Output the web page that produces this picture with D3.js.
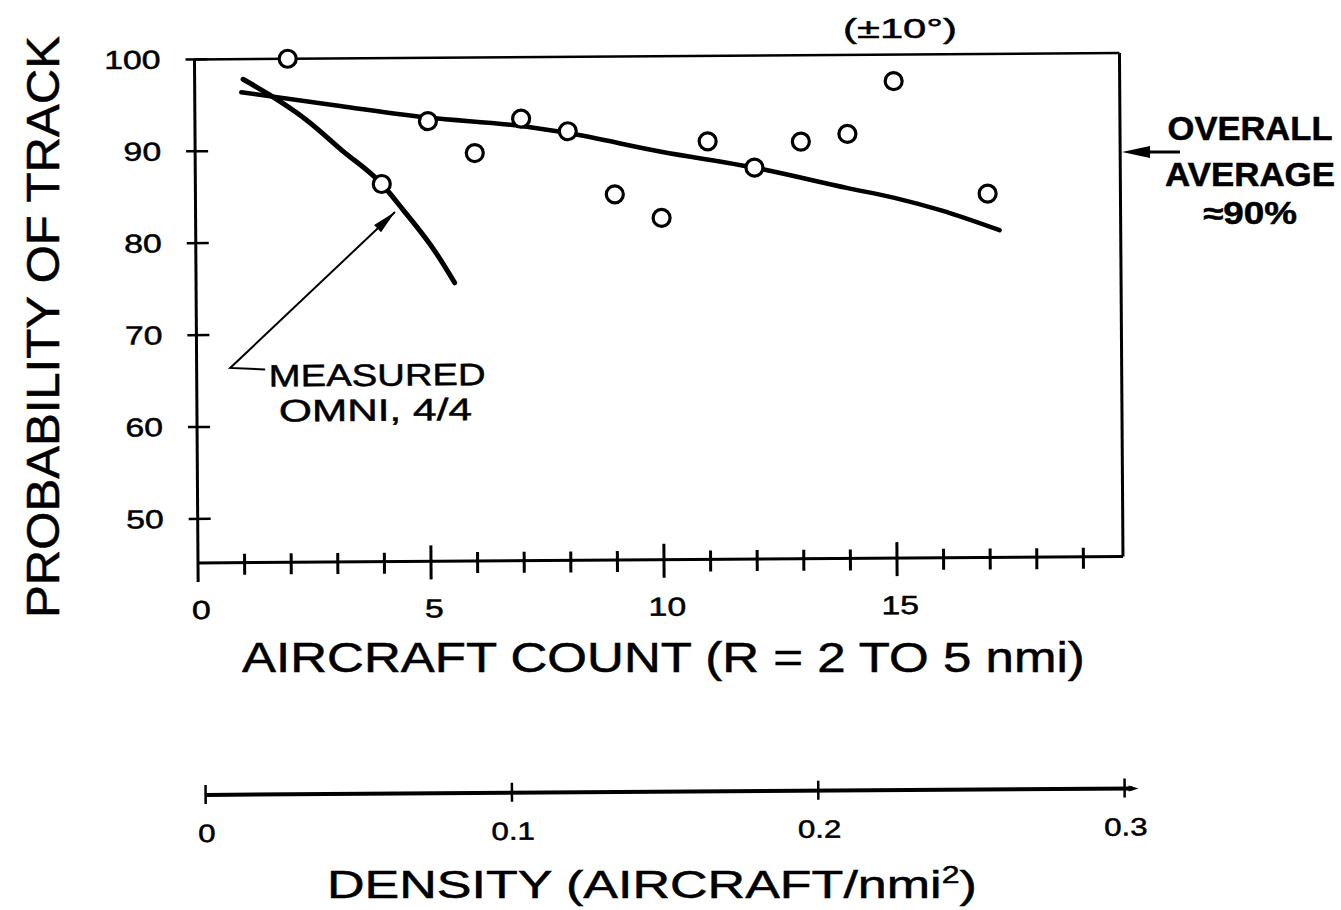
<!DOCTYPE html>
<html>
<head>
<meta charset="utf-8">
<script src="https://cdn.jsdelivr.net/npm/d3@7"></script>
<style>
body { margin: 0; background: #fff; }
svg text { font-family: "Liberation Sans", Arial, sans-serif; fill: #000; stroke: #000; stroke-width: 0.5px; }
</style>
</head>
<body>
<svg id="chart" width="1341" height="910"></svg>
<script>
// aircraft count of each run and its probability of track (%)
var counts = [2, 4, 5, 6, 7, 8, 9, 10, 11, 12, 13, 14, 15, 17];
var probs = [100, 86.3, 93.1, 89.6, 93.3, 91.9, 85.0, 82.4, 90.7, 87.8, 90.6, 91.4, 97.1, 84.8];
// faired line through the runs
var trendX = [1, 3, 5, 7, 8, 10, 12, 14, 15, 16, 17.25];
var trendY = [96.4, 94.9, 93.5, 92.5, 91.7, 89.6, 87.8, 85.5, 84.4, 83.0, 80.8];
// measured omni, 4/4
var omniX = [1.04, 1.6, 2.4, 3.15, 4.0, 4.45, 5.15, 5.55];
var omniY = [97.8, 96.1, 93.3, 90.0, 86.3, 83.5, 78.8, 75.5];
var yTicks = [50, 60, 70, 80, 90, 100];
var xMajor = [5, 10, 15];
var xMinor = [1, 2, 3, 4, 6, 7, 8, 9, 11, 12, 13, 14, 16, 17, 18, 19];
var xLabels = [0, 5, 10, 15];
var densTicks = [0, 0.1, 0.2, 0.3];
var densLabels = ["0", "0.1", "0.2", "0.3"];

var svg = d3.select("#chart");
var ox = 198, oy = 563;
var xMax = 19.85;
var x = d3.scaleLinear().domain([0, xMax]).range([ox, ox + xMax * 46.6]);
var y = d3.scaleLinear().domain([45.2, 100]).range([oy, 59.4]);
var dens = d3.scaleLinear().domain([0, 0.3]).range([204, 1123]);

function seg(p, x1, y1, x2, y2, w) {
    return p.append("line")
        .attr("x1", x1).attr("y1", y1)
        .attr("x2", x2).attr("y2", y2)
        .attr("stroke", "#000")
        .attr("stroke-width", w);
}

// text stretched sideways to the width it has in the scan
function label(p, str, px, py, size, anchor, width, weight, rot) {
    var t = p.append("text")
        .attr("text-anchor", anchor)
        .attr("font-size", size)
        .attr("font-weight", weight || "normal")
        .text(str);
    var w = t.node().getComputedTextLength();
    t.attr("transform", "translate(" + px + "," + py + ")" + (rot ? " rotate(" + rot + ")" : "") +
        " scale(" + (width / w) + ",1)");
    return t;
}

function arrowHead(p, x1, y1, x2, y2, len, half) {
    var a = Math.atan2(y2 - y1, x2 - x1);
    var bx = x2 - len * Math.cos(a), by = y2 - len * Math.sin(a);
    var nx = -Math.sin(a) * half, ny = Math.cos(a) * half;
    p.append("path")
        .attr("d", "M" + x2 + "," + y2 + "L" + (bx + nx) + "," + (by + ny) + "L" + (bx - nx) + "," + (by - ny) + "Z")
        .attr("fill", "#000");
}

// the scan sits a little askew, so the frame is turned with it
var g = svg.append("g").attr("transform", "rotate(-0.4," + ox + "," + oy + ")");

// frame
seg(g, x(0), y(100), x(xMax), y(100), 2.5);
seg(g, x(xMax), y(100), x(xMax), oy, 3);
seg(g, x(0), oy, x(xMax), oy, 3);
seg(g, ox, y(100), ox, oy + 19, 3);

g.selectAll(".ytick").data(yTicks).enter().append("line")
    .attr("x1", ox - 9).attr("x2", ox + 13)
    .attr("y1", function (d) { return y(d); })
    .attr("y2", function (d) { return y(d); })
    .attr("stroke", "#000").attr("stroke-width", 2.5);

g.selectAll(".xmaj").data(xMajor).enter().append("line")
    .attr("x1", function (d) { return x(d); })
    .attr("x2", function (d) { return x(d); })
    .attr("y1", oy - 16).attr("y2", oy + 18)
    .attr("stroke", "#000").attr("stroke-width", 3);

g.selectAll(".xmin").data(xMinor).enter().append("line")
    .attr("x1", function (d) { return x(d); })
    .attr("x2", function (d) { return x(d); })
    .attr("y1", oy - 9).attr("y2", oy + 12)
    .attr("stroke", "#000").attr("stroke-width", 3);

yTicks.forEach(function (d) {
    var t = g.append("text").attr("text-anchor", "end").attr("font-size", 26).text(d);
    t.attr("transform", "translate(" + (ox - 34) + "," + (y(d) + 9) + ") scale(1.3,1)");
});
xLabels.forEach(function (d) {
    var t = g.append("text").attr("text-anchor", "middle").attr("font-size", 26).text(d);
    t.attr("transform", "translate(" + (x(d) + 3) + "," + (oy + 56) + ") scale(1.3,1)");
});

// density scale
var dy0 = 795;
seg(g, dens(0), dy0, dens(0.3) + 8, dy0, 4);
arrowHead(g, dens(0.3), dy0, dens(0.3) + 14, dy0, 10, 3);
g.selectAll(".dtick").data(densTicks).enter().append("line")
    .attr("x1", function (d) { return dens(d); })
    .attr("x2", function (d) { return dens(d); })
    .attr("y1", dy0 - 10).attr("y2", dy0 + 9)
    .attr("stroke", "#000").attr("stroke-width", 2.5);
densTicks.forEach(function (d, i) {
    var t = g.append("text").attr("text-anchor", "middle").attr("font-size", 25).text(densLabels[i]);
    t.attr("transform", "translate(" + (dens(d) + 1) + ",842) scale(1.25,1)");
});

// curves
var trend = d3.line()
    .x(function (d, i) { return x(trendX[i]); })
    .y(function (d) { return y(d); })
    .curve(d3.curveMonotoneX);
g.append("path").attr("d", trend(trendY))
    .attr("fill", "none").attr("stroke", "#000")
    .attr("stroke-width", 4.5).attr("stroke-linecap", "round");

var omni = d3.line()
    .x(function (d, i) { return x(omniX[i]); })
    .y(function (d) { return y(d); })
    .curve(d3.curveMonotoneX);
g.append("path").attr("d", omni(omniY))
    .attr("fill", "none").attr("stroke", "#000")
    .attr("stroke-width", 5).attr("stroke-linecap", "round");

g.selectAll("circle").data(counts).enter().append("circle")
    .attr("cx", function (d) { return x(d); })
    .attr("cy", function (d, i) { return y(probs[i]); })
    .attr("r", 8.5)
    .attr("fill", "#fff").attr("stroke", "#000").attr("stroke-width", 3.2);

// leader to the measured curve
var tip = [x(4.28), y(83.24)], elbow = [x(0.72), y(66.4)], foot = [x(1.47), y(66.2)];
g.append("path")
    .attr("d", "M" + foot + "L" + elbow + "L" + tip)
    .attr("fill", "none").attr("stroke", "#000").attr("stroke-width", 2);
arrowHead(g, elbow[0], elbow[1], tip[0], tip[1], 24, 5);
label(g, "MEASURED", 270, 387, 31, "start", 217);
label(g, "OMNI, 4/4", 280, 422, 31, "start", 193);

// notes and titles
label(svg, "(\u00b110\u00b0)", 900, 38, 28, "middle", 114);
label(svg, "OVERALL", 1250, 140, 33, "middle", 165, "bold");
label(svg, "AVERAGE", 1250, 186, 33, "middle", 170, "bold");
label(svg, "\u224890%", 1250, 224, 31, "middle", 94, "bold");
seg(svg, 1180, 152, 1140, 152, 3);
arrowHead(svg, 1180, 152, 1122, 152, 28, 6);

label(svg, "PROBABILITY OF TRACK", 59, 327, 46, "middle", 582, "normal", -90);
label(svg, "AIRCRAFT COUNT (R = 2 TO 5 nmi)", 242, 672, 42, "start", 843);

var dt = svg.append("text").attr("font-size", 39);
dt.append("tspan").text("DENSITY (AIRCRAFT/nmi");
dt.append("tspan").attr("font-size", 24).attr("dy", -15).text("2");
dt.append("tspan").attr("dy", 15).text(")");
var dw = dt.node().getComputedTextLength();
dt.attr("transform", "translate(327,898) scale(" + (650 / dw) + ",1)");
</script>
</body>
</html>
